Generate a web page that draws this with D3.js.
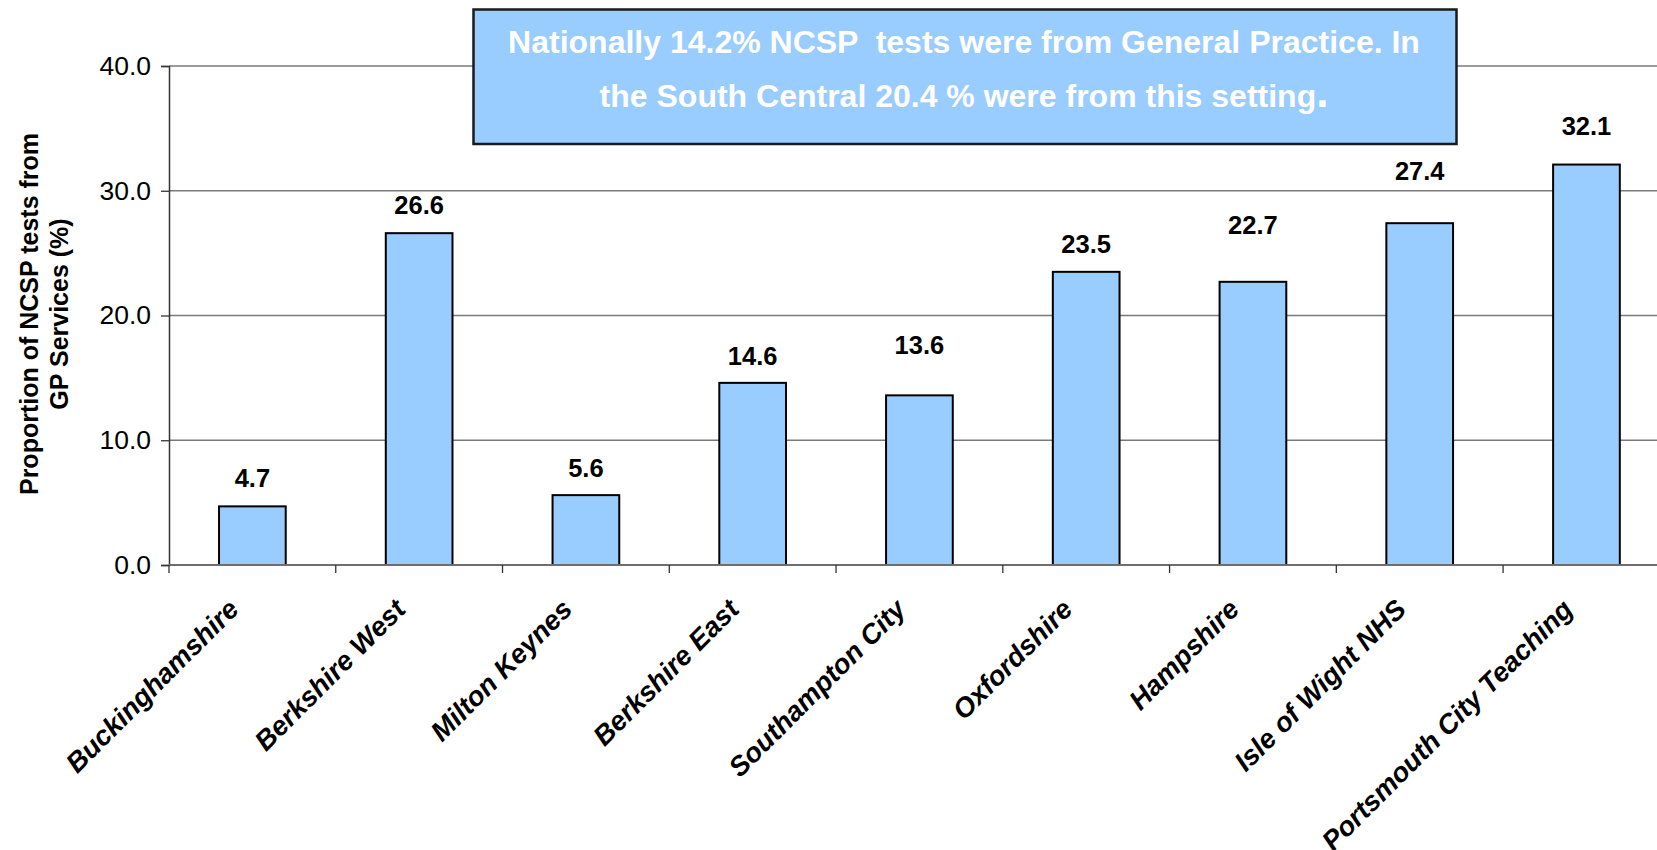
<!DOCTYPE html>
<html>
<head>
<meta charset="utf-8">
<script src="https://cdn.jsdelivr.net/npm/d3@7/dist/d3.min.js"></script>
<style>
  html, body { margin: 0; padding: 0; background: #ffffff; }
  svg { display: block; }
  text { font-family: "Liberation Sans", Arial, Helvetica, sans-serif; }
</style>
</head>
<body>
<svg id="chart" width="1657" height="850"></svg>
<script>
// ---- data ----
const categories = ["Buckinghamshire", "Berkshire West", "Milton Keynes", "Berkshire East",
  "Southampton City", "Oxfordshire", "Hampshire", "Isle of Wight NHS", "Portsmouth City Teaching"];
const values = [4.7, 26.6, 5.6, 14.6, 13.6, 23.5, 22.7, 27.4, 32.1];
const yTicks = [0, 10, 20, 30, 40];
const yTitleLines = ["Proportion of NCSP tests from", "GP Services (%)"];
const noteLines = ["Nationally 14.2% NCSP  tests were from General Practice. In",
  "the South Central 20.4 % were from this setting"];

// ---- layout (pixels) ----
const plot = { left: 169, top: 66, bottom: 565, step: 166.76 };
const labelLift = [19, 19.5, 18.5, 18, 41, 18.5, 48, 43, 29.5];

const svg = d3.select("#chart");

const x = d3.scaleBand()
  .domain(categories)
  .range([plot.left, plot.left + plot.step * categories.length])
  .paddingInner(0).paddingOuter(0);

const y = d3.scaleLinear().domain([0, 40]).range([plot.bottom, plot.top]);

const barW = x.bandwidth() * 0.4;

// gridlines
svg.append("g").selectAll("line")
  .data(yTicks.filter(d => d > 0))
  .join("line")
  .attr("x1", plot.left).attr("x2", 1660)
  .attr("y1", d => y(d)).attr("y2", d => y(d))
  .attr("stroke", "#7a7a7a").attr("stroke-width", 1.5);

// y axis
const yAxis = svg.append("g")
  .attr("transform", `translate(${plot.left},0)`)
  .call(d3.axisLeft(y).tickValues(yTicks).tickFormat(d3.format(".1f")).tickSize(8).tickPadding(10));
yAxis.select(".domain").attr("stroke", "#333").attr("stroke-width", 1.5);
yAxis.selectAll(".tick line").attr("stroke", "#333").attr("stroke-width", 1.3);
yAxis.selectAll(".tick text")
  .attr("font-size", 26.5).attr("fill", "#000")
  .attr("font-family", "'Liberation Sans', Arial, sans-serif");

// bars
svg.append("g").selectAll("rect")
  .data(values)
  .join("rect")
  .attr("x", (d, i) => x(categories[i]) + (x.bandwidth() - barW) / 2)
  .attr("y", d => y(d))
  .attr("width", barW)
  .attr("height", d => y(0) - y(d))
  .attr("fill", "#99CCFF")
  .attr("stroke", "#000").attr("stroke-width", 2);

// x axis line + boundary ticks
const xAxis = svg.append("g").attr("transform", `translate(0,${plot.bottom})`);
xAxis.append("line")
  .attr("x1", plot.left).attr("x2", 1660)
  .attr("y1", 0).attr("y2", 0)
  .attr("stroke", "#6e6e6e").attr("stroke-width", 2);
const bounds = categories.map(c => x(c)).concat([x.range()[1]]);
xAxis.selectAll("line.tk")
  .data(bounds)
  .join("line").attr("class", "tk")
  .attr("x1", d => d).attr("x2", d => d)
  .attr("y1", 0).attr("y2", 8)
  .attr("stroke", "#333").attr("stroke-width", 1.3);

// category labels
svg.append("g").selectAll("text")
  .data(categories)
  .join("text")
  .attr("transform", d => `translate(${x(d) + x.bandwidth() / 2 - 12},${plot.bottom + 46}) rotate(-45)`)
  .attr("text-anchor", "end")
  .attr("font-size", 27.5).attr("font-weight", "bold").attr("font-style", "italic")
  .attr("fill", "#000")
  .text(d => d);

// value labels
svg.append("g").selectAll("text")
  .data(values)
  .join("text")
  .attr("x", (d, i) => x(categories[i]) + x.bandwidth() / 2)
  .attr("y", (d, i) => y(d) - labelLift[i])
  .attr("text-anchor", "middle")
  .attr("font-size", 25.5).attr("font-weight", "bold").attr("fill", "#000")
  .text(d => d.toFixed(1));

// y axis title
const yt = svg.append("text")
  .attr("transform", "translate(0,314) rotate(-90)")
  .attr("text-anchor", "middle")
  .attr("font-size", 25).attr("font-weight", "bold").attr("fill", "#000");
yt.selectAll("tspan").data(yTitleLines).join("tspan")
  .attr("x", 0).attr("y", (d, i) => 38 + i * 30)
  .text(d => d);

// annotation box
const note = svg.append("g");
note.append("rect")
  .attr("x", 473.5).attr("y", 9.5).attr("width", 983).attr("height", 134.5)
  .attr("fill", "#99CCFF").attr("stroke", "#1a1a1a").attr("stroke-width", 2.5);
const nt = note.append("text")
  .attr("text-anchor", "middle")
  .attr("font-size", 32).attr("font-weight", "bold").attr("fill", "#ffffff")
  .attr("xml:space", "preserve");
nt.append("tspan").attr("x", 964).attr("y", 53).text(noteLines[0]);
const l2 = nt.append("tspan").attr("x", 964).attr("y", 107);
l2.text(noteLines[1]);
l2.append("tspan").attr("font-size", 44).text(".");
</script>
</body>
</html>
